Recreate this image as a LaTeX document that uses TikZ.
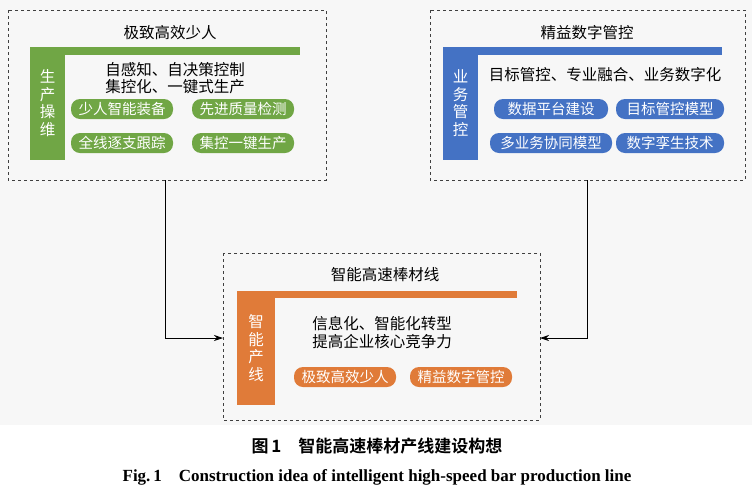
\documentclass[tikz,border=0pt]{standalone}
\usepackage{fontspec}
\setmainfont{Liberation Serif}
\newfontfamily\cjk{Noto Sans CJK SC}
\newfontfamily\cjkb{Noto Sans CJK SC Bold}
\usetikzlibrary{arrows.meta}
\definecolor{gG}{HTML}{70A645}
\definecolor{bB}{HTML}{4472C4}
\definecolor{oO}{HTML}{E07B39}
\begin{document}
\begin{tikzpicture}[x=1pt,y=-1pt,
 box/.style={draw=black!75,dashed,line width=0.7pt},
 pill/.style={rounded corners=9pt,minimum width=102pt,minimum height=20pt,inner sep=0pt,text=white,font=\cjk\fontsize{14.5}{16}\selectfont},
 txt/.style={font=\cjk\fontsize{15.5}{17}\selectfont,inner sep=0pt},
 vt/.style={text=white,align=center,font=\cjk\fontsize{15.5}{17.5}\selectfont},
 arr/.style={-{Stealth[length=9pt,width=6pt]},line width=0.8pt}]
\useasboundingbox (0,0) rectangle (752,496);
\fill[black!3] (0,0) rectangle (752,425);
% left
\draw[box] (8,10) rectangle (326,180);
\node[txt] (lt) at (170,33) {极致高效少人};
\fill[gG] (30,47) rectangle (300,55);
\fill[gG] (30,47) rectangle (65,160);
\node[vt] (lv) at (47.5,103) {生\\产\\操\\维};
\node[txt] (l1) at (175,70) {自感知、自决策控制};
\node[txt] (l2) at (175,87) {集控化、一键式生产};
\node[pill,fill=gG] (p1) at (122,109) {少人智能装备};
\node[pill,fill=gG] (p2) at (243,109) {先进质量检测};
\node[pill,fill=gG] (p3) at (122,143) {全线逐支跟踪};
\node[pill,fill=gG] (p4) at (243,143) {集控一键生产};
% right
\draw[box] (430,10) rectangle (745,180);
\node[txt] (rt) at (587,33) {精益数字管控};
\fill[bB] (443,47) rectangle (722,55);
\fill[bB] (443,47) rectangle (478,160);
\node[vt] (rv) at (460.5,103) {业\\务\\管\\控};
\node[txt] (r1) at (605,75) {目标管控、专业融合、业务数字化};
\node[pill,fill=bB,minimum width=114pt] (q1) at (551,109) {数据平台建设};
\node[pill,fill=bB,minimum width=108pt] (q2) at (670,109) {目标管控模型};
\node[pill,fill=bB,minimum width=122pt] (q3) at (551,143) {多业务协同模型};
\node[pill,fill=bB,minimum width=108pt] (q4) at (670,143) {数字孪生技术};
% bottom
\draw[box] (223,253) rectangle (540,420);
\node[txt] (bt) at (385,275) {智能高速棒材线};
\fill[oO] (237,291) rectangle (517,298);
\fill[oO] (237,291) rectangle (275,405);
\node[vt] (bv) at (256,348) {智\\能\\产\\线};
\node[txt] (b1) at (382,324) {信息化、智能化转型};
\node[txt] (b2) at (382,342) {提高企业核心竞争力};
\node[pill,fill=oO] (o1) at (345,377) {极致高效少人};
\node[pill,fill=oO] (o2) at (461,377) {精益数字管控};
% arrows
\coordinate (ls) at (165,180);
\coordinate (le) at (223,338);
\coordinate (rs) at (587,180);
\coordinate (re) at (540,338);
\draw[arr] (ls) |- (le);
\draw[arr] (rs) |- (re);
% captions
\node[font=\cjkb\fontsize{17}{19}\selectfont] (c1) at (377,446) {图\,1\quad 智能高速棒材产线建设构想};
\node[font=\bfseries\fontsize{17}{19}\selectfont] (c2) at (377,477) {Fig.\,1\quad Construction idea of intelligent high-speed bar production line};
\end{tikzpicture}
\end{document}
